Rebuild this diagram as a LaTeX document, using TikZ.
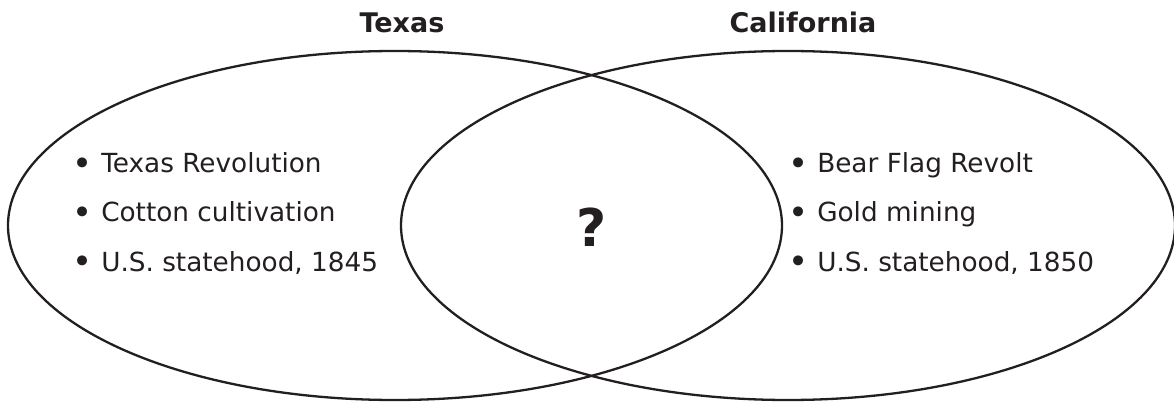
\documentclass[tikz,border=0pt]{standalone}
\usepackage{fontspec}
\setmainfont{DejaVu Sans}
\usetikzlibrary{shapes.geometric}
\definecolor{ink}{RGB}{35,31,32}
\tikzset{
    set/.style={ellipse, draw=ink, line width=2.3pt, minimum width=774pt, minimum height=349pt, inner sep=0pt, outer sep=0pt},
    heading/.style={font=\fontsize{27}{32}\selectfont\bfseries, text=ink, anchor=base, inner sep=0pt},
    entry/.style={font=\fontsize{26.3}{30}\selectfont, text=ink, anchor=base west, inner sep=0pt},
    query/.style={font=\fontsize{52}{60}\selectfont\bfseries, text=ink, anchor=base, inner sep=0pt}
}
\newcommand{\itm}[1]{\raisebox{-2.5pt}{\fontsize{34}{34}\selectfont\textbullet}\hspace{9pt}#1}

\begin{document}
\begin{tikzpicture}[x=1pt, y=-1pt]
    \useasboundingbox (0,0) rectangle (1174,403);

    \node[set] (tx) at (395,225.5) {};
    \node[set] (ca) at (788,225.5) {};

    \node[heading] (txname) at (402,33) {Texas};
    \node[heading] (caname) at (803,33) {California};

    \node[entry] (tx1) at (72,173) {\itm{Texas Revolution}};
    \node[entry] (tx2) at (72,222) {\itm{Cotton cultivation}};
    \node[entry] (tx3) at (72,271) {\itm{U.S. statehood, 1845}};

    \node[entry] (ca1) at (788,173) {\itm{Bear Flag Revolt}};
    \node[entry] (ca2) at (788,222) {\itm{Gold mining}};
    \node[entry] (ca3) at (788,271) {\itm{U.S. statehood, 1850}};

    \node[query] (both) at (592,247) {?};
\end{tikzpicture}
\end{document}
